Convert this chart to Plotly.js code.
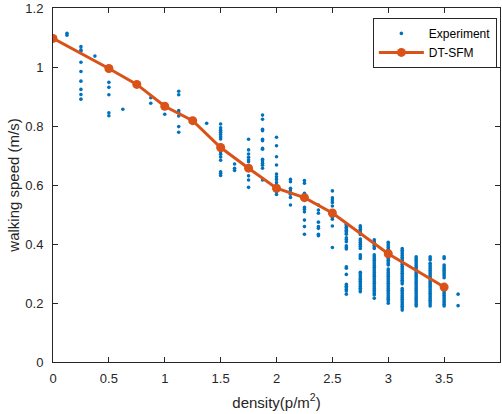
<!DOCTYPE html>
<html><head><meta charset="utf-8">
<script src="https://cdn.plot.ly/plotly-3.0.1.min.js"></script>
<style>html,body{margin:0;padding:0;background:#fff;}#chart{width:502px;height:414px;}</style>
</head><body><div id="chart"></div>
<script>
// Experiment: density levels and the walking speeds read at each level
const expDensity = [0.125, 0.25, 0.375, 0.5, 0.625, 0.875, 1.0, 1.125, 1.375, 1.5, 1.625, 1.75, 1.875, 2.0, 2.125, 2.25, 2.375, 2.5, 2.625, 2.75, 2.875, 3.0, 3.125, 3.25, 3.375, 3.5, 3.625];
const expSpeeds = [
  [1.114, 1.108],
  [1.069, 1.058, 1.054, 1.016, 0.985, 0.952, 0.924, 0.907, 0.891],
  [1.037],
  [0.948, 0.931, 0.906, 0.845, 0.835],
  [0.857],
  [0.896, 0.877],
  [0.840],
  [0.918, 0.906, 0.852, 0.845, 0.834, 0.798, 0.779],
  [0.809],
  [0.807, 0.794, 0.786, 0.779, 0.771, 0.763, 0.756, 0.735, 0.713, 0.704, 0.695, 0.684, 0.645, 0.640, 0.632],
  [0.671, 0.657, 0.649],
  [0.755, 0.719, 0.705, 0.694, 0.685, 0.679, 0.631, 0.617, 0.592],
  [0.837, 0.823, 0.789, 0.784, 0.755, 0.750, 0.724, 0.721, 0.687, 0.682, 0.674, 0.667, 0.657, 0.617],
  [0.762, 0.733, 0.696, 0.668, 0.637, 0.628, 0.619, 0.608, 0.599, 0.577, 0.568],
  [0.619, 0.611, 0.589, 0.583, 0.574, 0.569, 0.558, 0.532],
  [0.615, 0.606, 0.572, 0.524, 0.518, 0.509, 0.481, 0.459, 0.433],
  [0.532, 0.515, 0.504, 0.474, 0.459, 0.453, 0.433, 0.428],
  [0.580, 0.557, 0.549, 0.541, 0.529, 0.490, 0.484, 0.461, 0.388],
  [0.467, 0.462, 0.457, 0.452, 0.447, 0.442, 0.437, 0.433, 0.421, 0.415, 0.408, 0.394, 0.388, 0.383, 0.323, 0.318, 0.297, 0.263, 0.257, 0.252, 0.246, 0.241, 0.230],
  [0.462, 0.456, 0.450, 0.444, 0.438, 0.432, 0.417, 0.411, 0.405, 0.399, 0.392, 0.385, 0.363, 0.357, 0.351, 0.304, 0.298, 0.292, 0.286, 0.280, 0.274, 0.268, 0.262, 0.256, 0.250, 0.244, 0.238],
  [0.414, 0.408, 0.402, 0.396, 0.390, 0.385, 0.363, 0.357, 0.351, 0.345, 0.339, 0.333, 0.327, 0.321, 0.315, 0.309, 0.303, 0.297, 0.291, 0.285, 0.279, 0.273, 0.267, 0.261, 0.255, 0.249, 0.243, 0.237, 0.231, 0.227, 0.216],
  [0.406, 0.400, 0.394, 0.388, 0.382, 0.376, 0.370, 0.364, 0.358, 0.351, 0.345, 0.339, 0.333, 0.329, 0.315, 0.309, 0.303, 0.297, 0.291, 0.285, 0.279, 0.273, 0.267, 0.261, 0.255, 0.249, 0.243, 0.237, 0.231, 0.225, 0.219, 0.213, 0.207, 0.199],
  [0.385, 0.379, 0.373, 0.367, 0.361, 0.355, 0.349, 0.343, 0.337, 0.331, 0.325, 0.319, 0.313, 0.307, 0.301, 0.295, 0.289, 0.283, 0.277, 0.271, 0.265, 0.249, 0.243, 0.237, 0.231, 0.225, 0.219, 0.213, 0.207, 0.201, 0.195, 0.189, 0.183, 0.176],
  [0.357, 0.351, 0.345, 0.339, 0.333, 0.327, 0.321, 0.315, 0.309, 0.303, 0.297, 0.291, 0.285, 0.279, 0.273, 0.267, 0.261, 0.255, 0.249, 0.243, 0.237, 0.231, 0.225, 0.219, 0.213, 0.207, 0.201, 0.195, 0.190],
  [0.357, 0.351, 0.346, 0.335, 0.329, 0.323, 0.317, 0.311, 0.305, 0.299, 0.293, 0.287, 0.281, 0.275, 0.269, 0.263, 0.257, 0.251, 0.245, 0.239, 0.233, 0.227, 0.221, 0.215, 0.209, 0.203, 0.197, 0.190],
  [0.357, 0.351, 0.329, 0.323, 0.317, 0.311, 0.305, 0.299, 0.293, 0.286, 0.262, 0.256, 0.250, 0.244, 0.238, 0.232, 0.226, 0.220, 0.214, 0.208, 0.202, 0.196, 0.190],
  [0.230, 0.191]
];

// DT-SFM model curve
const modelDensity = [0, 0.5, 0.75, 1.0, 1.25, 1.5, 1.75, 2.0, 2.25, 2.5, 3.0, 3.5];
const modelSpeed = [1.097, 0.995, 0.941, 0.867, 0.818, 0.727, 0.657, 0.589, 0.557, 0.505, 0.367, 0.254];

const xTickVals = [0, 0.5, 1, 1.5, 2, 2.5, 3, 3.5, 4];
const yTickVals = [0, 0.2, 0.4, 0.6, 0.8, 1, 1.2];

const ex = [], ey = [];
expDensity.forEach((d, i) => expSpeeds[i].forEach(v => { ex.push(d); ey.push(v); }));

const axisColor = '#262626';
const fam = '"Liberation Sans", Arial, sans-serif';
const tickFont = {family: fam, size: 13, color: axisColor};
const titleFont = {family: fam, size: 15, color: axisColor};

const traces = [
  {x: ex, y: ey, type: 'scatter', mode: 'markers', name: 'Experiment',
   marker: {color: '#0072BD', size: 3.6}},
  {x: modelDensity, y: modelSpeed, type: 'scatter', mode: 'lines+markers', name: 'DT-SFM',
   line: {color: '#D95319', width: 3}, marker: {color: '#D95319', size: 9}}
];

const baseAxis = {
  showgrid: false, zeroline: false, showline: true, linecolor: axisColor, linewidth: 1,
  ticks: 'inside', ticklen: 5, tickcolor: axisColor, tickwidth: 1, mirror: 'allticks',
  tickfont: tickFont, fixedrange: true
};

const layout = {
  width: 502, height: 414,
  margin: {l: 53, r: 2, t: 8, b: 52},
  paper_bgcolor: '#fff', plot_bgcolor: '#fff',
  font: tickFont,
  showlegend: true,
  legend: {x: 0.993, y: 0.972, xanchor: 'right', yanchor: 'top',
    bordercolor: axisColor, borderwidth: 1, bgcolor: '#fff',
    font: {family: fam, size: 12, color: '#000'}, itemwidth: 45, tracegroupgap: 0},
  xaxis: Object.assign({}, baseAxis, {range: [0, 4], tickvals: xTickVals,
    ticktext: xTickVals.map(String), ticklabelstandoff: 4,
    title: {text: 'density(p/m<sup>2</sup>)', font: titleFont, standoff: 12}}),
  yaxis: Object.assign({}, baseAxis, {range: [0, 1.2], tickvals: yTickVals,
    ticktext: yTickVals.map(String), ticklabelstandoff: 6,
    title: {text: 'walking speed (m/s)', font: titleFont, standoff: 2}})
};

Plotly.newPlot('chart', traces, layout, {displayModeBar: false, staticPlot: true});
</script>
</body></html>
